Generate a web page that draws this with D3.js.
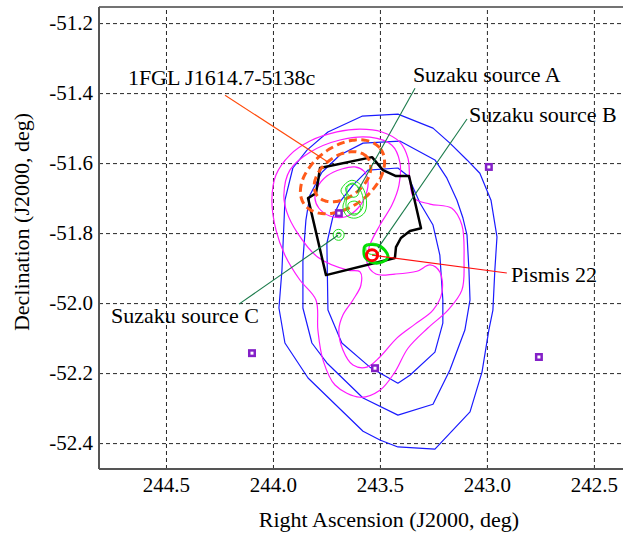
<!DOCTYPE html>
<html>
<head>
<meta charset="utf-8">
<script src="https://cdn.jsdelivr.net/npm/d3@7"></script>
<style>
  html, body { margin: 0; padding: 0; background: #fff; }
  svg { display: block; }
  text { font-family: "Liberation Serif", "Times New Roman", serif; fill: #000; }
</style>
</head>
<body>
<svg id="chart" width="623" height="534"></svg>
<script>
// ---- Axis ticks (degrees) ----
const raTicks = [244.5, 244.0, 243.5, 243.0, 242.5];
const decTicks = [-51.2, -51.4, -51.6, -51.8, -52.0, -52.2, -52.4];

// ---- Extended TeV emission contours, [RA, Dec] in degrees ----
const blueOuter = [
  [243.907,-51.614],[243.841,-51.563],[243.743,-51.511],[243.584,-51.466],[243.416,-51.460],
  [243.252,-51.500],[243.173,-51.543],[243.093,-51.591],[243.033,-51.629],[242.981,-51.706],
  [242.953,-51.811],[242.963,-51.906],[242.972,-52.020],[242.991,-52.077],[243.023,-52.197],
  [243.079,-52.311],[243.243,-52.417],[243.416,-52.411],[243.500,-52.391],[243.579,-52.366],
  [243.836,-52.214],[243.944,-52.114],[243.972,-52.014],[243.958,-51.906],[243.944,-51.706]
];
const blueMiddle = [
  [243.827,-51.691],[243.771,-51.626],[243.687,-51.577],[243.579,-51.543],[243.407,-51.537],
  [243.243,-51.591],[243.187,-51.643],[243.140,-51.706],[243.112,-51.757],[243.093,-51.806],
  [243.084,-51.906],[243.079,-51.991],[243.103,-52.077],[243.173,-52.191],[243.252,-52.289],
  [243.416,-52.320],[243.579,-52.271],[243.748,-52.171],[243.818,-52.114],[243.860,-52.014],
  [243.860,-51.877],[243.846,-51.763]
];
const blueInner = [
  [243.626,-51.663],[243.556,-51.620],[243.416,-51.614],[243.369,-51.637],[243.313,-51.714],
  [243.252,-51.777],[243.220,-51.863],[243.206,-51.991],[243.206,-52.057],[243.243,-52.140],
  [243.360,-52.206],[243.416,-52.229],[243.547,-52.183],[243.678,-52.114],[243.743,-52.020],
  [243.748,-51.829],[243.720,-51.754],[243.687,-51.711]
];

// ---- Second set of contours (magenta) ----
const magentaOuter = [
  [244.005,-51.706],[243.986,-51.634],[243.921,-51.577],[243.827,-51.537],[243.701,-51.511],
  [243.593,-51.503],[243.491,-51.511],[243.407,-51.540],[243.369,-51.586],[243.360,-51.649],
  [243.341,-51.700],[243.266,-51.717],[243.164,-51.729],[243.117,-51.777],[243.107,-51.877],
  [243.117,-51.963],[243.182,-52.020],[243.276,-52.071],[243.369,-52.129],[243.430,-52.197],
  [243.500,-52.249],[243.593,-52.269],[243.710,-52.234],[243.766,-52.163],[243.790,-52.077],
  [243.799,-51.991],[243.874,-51.934],[243.944,-51.863],[243.986,-51.791]
];
const magentaMiddle = [
  [243.949,-51.691],[243.921,-51.620],[243.827,-51.569],[243.687,-51.534],[243.547,-51.526],
  [243.444,-51.549],[243.407,-51.597],[243.411,-51.663],[243.444,-51.720],[243.500,-51.777],
  [243.547,-51.834],[243.561,-51.883],[243.519,-51.917],[243.430,-51.917],[243.327,-51.909],
  [243.266,-51.891],[243.220,-51.911],[243.210,-51.969],[243.252,-52.020],[243.336,-52.060],
  [243.421,-52.100],[243.500,-52.154],[243.561,-52.183],[243.626,-52.177],[243.673,-52.134],
  [243.692,-52.077],[243.673,-52.034],[243.626,-51.991],[243.589,-51.949],[243.593,-51.911],
  [243.650,-51.906],[243.790,-51.869],[243.888,-51.797],[243.935,-51.740]
];
const magentaInner = [
  [243.804,-51.700],[243.794,-51.671],[243.748,-51.637],[243.678,-51.617],[243.617,-51.611],
  [243.575,-51.623],[243.556,-51.651],[243.565,-51.689],[243.603,-51.729],[243.664,-51.754],
  [243.734,-51.751],[243.785,-51.729]
];

// ---- Suzaku XIS field of view ----
const suzakuFov = [
  [243.780,-51.614],[243.537,-51.583],[243.486,-51.620],[243.425,-51.637],[243.364,-51.637],
  [243.308,-51.786],[243.360,-51.794],[243.402,-51.814],[243.425,-51.840],[243.430,-51.871],
  [243.752,-51.920],[243.836,-51.700],[243.799,-51.686],[243.790,-51.654]
];

// ---- 1FGL J1614.7-5138c error ellipses (semi-axes on sky, deg; PA from north through east) ----
const fglCenter = [243.675, -51.639];
const fglEllipses = [
  { level: "68%", a: 0.091, b: 0.060, pa: -55 },
  { level: "95%", a: 0.136, b: 0.087, pa: -55 }
];

// ---- X-ray contours of the Suzaku sources ----
const sourceAContours = [
  [[243.668,-51.663],[243.631,-51.649],[243.589,-51.663],[243.565,-51.697],[243.570,-51.740],
   [243.612,-51.757],[243.654,-51.751],[243.673,-51.726],[243.664,-51.700],[243.682,-51.680]],
  [[243.659,-51.669],[243.626,-51.657],[243.598,-51.671],[243.579,-51.700],[243.584,-51.731],
   [243.617,-51.749],[243.650,-51.740],[243.659,-51.717],[243.654,-51.694]],
  [[243.650,-51.666],[243.621,-51.660],[243.598,-51.677],[243.607,-51.694],[243.636,-51.697],[243.654,-51.683]],
  [[243.645,-51.714],[243.612,-51.709],[243.589,-51.726],[243.603,-51.743],[243.636,-51.743],[243.650,-51.729]]
];
const sourceBContourOuter = [
  [243.570,-51.837],[243.514,-51.834],[243.477,-51.849],[243.463,-51.869],
  [243.491,-51.883],[243.542,-51.883],[243.570,-51.869],[243.575,-51.851]
];
const sourceBContourInner = [
  [243.561,-51.834],[243.528,-51.829],[243.500,-51.840],[243.509,-51.857],[243.547,-51.860],[243.565,-51.849]
];
const sourceC = [243.693, -51.805];

// ---- Open cluster Pismis 22 ----
const pismis22 = [243.537, -51.863];

// ---- Field point sources (squares) ----
const fieldSources = [
  [243.692, -51.743], [242.991, -51.611], [244.098, -52.143], [243.523, -52.186], [242.757, -52.154]
];

// ---- Annotations: text anchor, leader line start and end ----
const labelNames = ["1FGL J1614.7-5138c", "Suzaku source A", "Suzaku source B", "Suzaku source C", "Pismis 22"];
const labelAnchors = [[244.678,-51.377],[243.346,-51.369],[243.084,-51.483],[244.757,-52.057],[242.888,-51.940]];
const leaderFrom = [[244.224,-51.406],[243.336,-51.386],[243.093,-51.474],[244.159,-52.003],[242.907,-51.914]];
const leaderTo = [[243.743,-51.597],[243.607,-51.683],[243.509,-51.843],[243.696,-51.806],[243.537,-51.863]];
const leaderColors = ["#ff4a0a", "#1a7a4a", "#1a7a4a", "#1a7a4a", "#ff1010"];

// ---- Layout ----
const svg = d3.select("#chart");
const M = { left: 99, top: 7, bottom: 469, right: 623 };

const x = d3.scaleLinear().domain([244.813, 242.364]).range([M.left, M.right]);
const y = d3.scaleLinear().domain([-52.474, -51.154]).range([M.bottom, M.top]);

svg.append("defs").append("clipPath").attr("id", "plotClip")
  .append("rect").attr("x", M.left).attr("y", M.top).attr("width", 700).attr("height", M.bottom - M.top);

// Grid lines via axes
const fmt = d => d.toFixed(1);
const xAxis = svg.append("g").attr("transform", `translate(0,${M.bottom})`)
  .call(d3.axisBottom(x).tickValues(raTicks).tickFormat(fmt)
    .tickSizeInner(-(M.bottom - M.top)).tickSizeOuter(0).tickPadding(8));
const yAxis = svg.append("g").attr("transform", `translate(${M.left},0)`)
  .call(d3.axisLeft(y).tickValues(decTicks).tickFormat(fmt)
    .tickSizeInner(-700).tickSizeOuter(0).tickPadding(6));

[xAxis, yAxis].forEach(g => {
  g.attr("font-family", null).attr("font-size", null);
  g.select(".domain").remove();
  g.selectAll(".tick line").attr("stroke", "#000").attr("stroke-width", 1)
    .attr("stroke-dasharray", "4,3").attr("opacity", 0.85);
  g.selectAll(".tick text").style("font-size", "21px")
    .style("font-family", "'Liberation Serif','Times New Roman',serif").attr("fill", "#000");
});

// Frame
svg.append("line").attr("x1", M.left).attr("x2", M.right).attr("y1", M.top).attr("y2", M.top)
  .attr("stroke", "#444").attr("stroke-width", 1.5);
svg.append("line").attr("x1", M.left).attr("x2", M.right).attr("y1", M.bottom).attr("y2", M.bottom)
  .attr("stroke", "#555").attr("stroke-width", 2);
svg.append("line").attr("x1", M.left).attr("x2", M.left).attr("y1", M.top).attr("y2", M.bottom)
  .attr("stroke", "#555").attr("stroke-width", 2);

const plot = svg.append("g").attr("clip-path", "url(#plotClip)");

const lineLinear = d3.line().x(d => x(d[0])).y(d => y(d[1])).curve(d3.curveLinearClosed);
const lineSmooth = d3.line().x(d => x(d[0])).y(d => y(d[1])).curve(d3.curveCatmullRomClosed.alpha(0.5));

// Blue contours
[blueOuter, blueMiddle, blueInner].forEach(c => {
  plot.append("path").attr("d", lineLinear(c)).attr("fill", "none")
    .attr("stroke", "#1a1aff").attr("stroke-width", 1.2).attr("stroke-linejoin", "round");
});

// Magenta contours
[magentaOuter, magentaMiddle, magentaInner].forEach(c => {
  plot.append("path").attr("d", lineSmooth(c)).attr("fill", "none")
    .attr("stroke", "#ff1aff").attr("stroke-width", 1.2);
});

// Suzaku field of view
plot.append("path").attr("d", lineLinear(suzakuFov)).attr("fill", "none")
  .attr("stroke", "#000").attr("stroke-width", 2.5).attr("stroke-linejoin", "round");

// Fermi error ellipses
function ellipsePoints(c, e) {
  const pa = e.pa * Math.PI / 180;
  const cosDec = Math.cos(c[1] * Math.PI / 180);
  return d3.range(0, 360, 4).map(t => {
    const r = t * Math.PI / 180;
    const u = e.a * Math.cos(r), v = e.b * Math.sin(r);
    const east = u * Math.sin(pa) + v * Math.cos(pa);
    const north = u * Math.cos(pa) - v * Math.sin(pa);
    return [c[0] + east / cosDec, c[1] + north];
  });
}
fglEllipses.forEach(e => {
  plot.append("path").attr("d", lineSmooth(ellipsePoints(fglCenter, e))).attr("fill", "none")
    .attr("stroke", "#ff5a1a").attr("stroke-width", 3).attr("stroke-dasharray", "8,4.5");
});

// Source A contours
sourceAContours.forEach(c => {
  plot.append("path").attr("d", lineSmooth(c)).attr("fill", "none")
    .attr("stroke", "#22e022").attr("stroke-width", 1);
});
// Source B contours
plot.append("path").attr("d", lineSmooth(sourceBContourOuter)).attr("fill", "none")
  .attr("stroke", "#00dd00").attr("stroke-width", 3);
plot.append("path").attr("d", lineSmooth(sourceBContourInner)).attr("fill", "none")
  .attr("stroke", "#22e022").attr("stroke-width", 1);
// Source C
[5.5, 2.5].forEach(r => {
  plot.append("circle").attr("cx", x(sourceC[0])).attr("cy", y(sourceC[1])).attr("r", r)
    .attr("fill", "none").attr("stroke", "#22e022").attr("stroke-width", 1);
});

// Leader lines
labelNames.forEach((n, i) => {
  plot.append("line")
    .attr("x1", x(leaderFrom[i][0])).attr("y1", y(leaderFrom[i][1]))
    .attr("x2", x(leaderTo[i][0])).attr("y2", y(leaderTo[i][1]))
    .attr("stroke", leaderColors[i]).attr("stroke-width", 1.1);
});

// Pismis 22
plot.append("circle").attr("cx", x(pismis22[0])).attr("cy", y(pismis22[1])).attr("r", 5.5)
  .attr("fill", "none").attr("stroke", "#ff0000").attr("stroke-width", 3);

// Field sources
plot.selectAll("rect.src").data(fieldSources).enter().append("rect").attr("class", "src")
  .attr("x", d => x(d[0]) - 2.75).attr("y", d => y(d[1]) - 2.75)
  .attr("width", 5.5).attr("height", 5.5)
  .attr("fill", "#fff").attr("stroke", "#8420c8").attr("stroke-width", 2.5);

// Labels
labelNames.forEach((n, i) => {
  svg.append("text").attr("x", x(labelAnchors[i][0])).attr("y", y(labelAnchors[i][1]))
    .style("font-size", "22px").text(n);
});

// Axis titles
svg.append("text").attr("x", 389).attr("y", 527).attr("text-anchor", "middle")
  .style("font-size", "22px").text("Right Ascension (J2000, deg)");
svg.append("text").attr("transform", "translate(29,222) rotate(-90)").attr("text-anchor", "middle")
  .style("font-size", "22px").text("Declination (J2000, deg)");
</script>
</body>
</html>
